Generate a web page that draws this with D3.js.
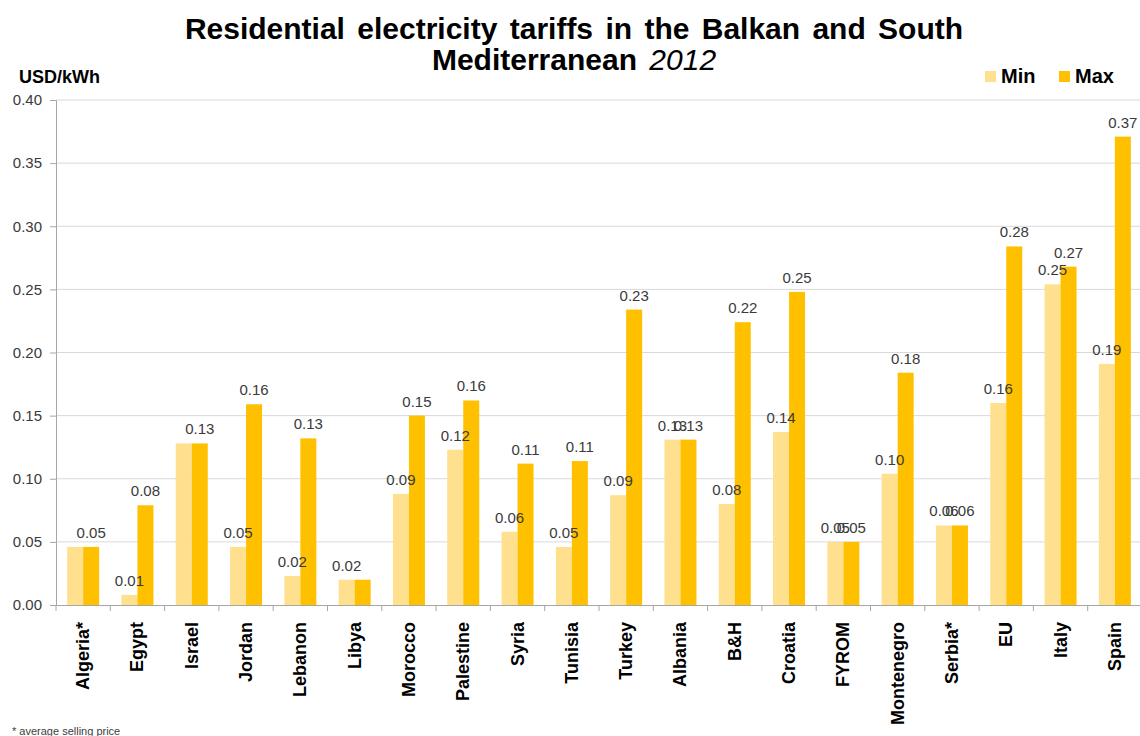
<!DOCTYPE html>
<html>
<head>
<meta charset="utf-8">
<script src="https://cdn.jsdelivr.net/npm/d3@7"></script>
<style>
  html, body { margin: 0; padding: 0; background: #fff; }
  svg { display: block; font-family: "Liberation Sans", Arial, sans-serif; }
</style>
</head>
<body>
<svg id="chart" width="1140" height="736"></svg>
<script>
// Residential tariffs, USD per kWh, 2012
const countries = ["Algeria*", "Egypt", "Israel", "Jordan", "Lebanon", "Libya", "Morocco",
  "Palestine", "Syria", "Tunisia", "Turkey", "Albania", "B&H", "Croatia", "FYROM",
  "Montenegro", "Serbia*", "EU", "Italy", "Spain"];
const minTariff = [0.046, 0.008, 0.128, 0.046, 0.023, 0.020, 0.088,
  0.123, 0.058, 0.046, 0.087, 0.131, 0.080, 0.137, 0.050,
  0.104, 0.063, 0.160, 0.254, 0.191];
const maxTariff = [0.046, 0.079, 0.128, 0.159, 0.132, 0.020, 0.150,
  0.162, 0.112, 0.114, 0.234, 0.131, 0.224, 0.248, 0.050,
  0.184, 0.063, 0.284, 0.268, 0.371];
// data labels that are switched off
const hiddenMinLabels = ["Algeria*", "Israel"];
const hiddenMaxLabels = ["Libya"];
const yTicks = [0, 0.05, 0.10, 0.15, 0.20, 0.25, 0.30, 0.35, 0.40];
const seriesKeys = ["Min", "Max"];
const seriesColors = ["#FEE08E", "#FFC000"];

const rows = countries.map((c, i) => ({ country: c, Min: minTariff[i], Max: maxTariff[i] }));

const svg = d3.select("#chart");
const plot = { left: 56, right: 1142, top: 100, bottom: 605 };

const x = d3.scaleBand().domain(countries).range([plot.left, plot.right]);
const bw = x.bandwidth();
const barW = 16;
const x1 = d3.scaleBand().domain(seriesKeys).range([bw / 2 - barW, bw / 2 + barW]);
const y = d3.scaleLinear().domain([0, 0.4]).range([plot.bottom, plot.top]);
const color = d3.scaleOrdinal().domain(seriesKeys).range(seriesColors);
const fmt = d3.format(".2f");

// gridlines
svg.append("g")
  .selectAll("line")
  .data(yTicks.slice(1))
  .join("line")
  .attr("x1", plot.left).attr("x2", 1140)
  .attr("y1", d => y(d)).attr("y2", d => y(d))
  .attr("stroke", "#D9D9D9").attr("stroke-width", 1);

// bars
const groups = svg.append("g")
  .selectAll("g")
  .data(rows)
  .join("g")
  .attr("transform", d => `translate(${x(d.country)},0)`);

groups.selectAll("rect")
  .data(d => seriesKeys.map(k => ({ key: k, value: d[k], country: d.country })))
  .join("rect")
  .attr("x", d => x1(d.key))
  .attr("width", x1.bandwidth())
  .attr("y", d => y(d.value))
  .attr("height", d => y(0) - y(d.value))
  .attr("fill", d => color(d.key));

// value labels
groups.selectAll("text")
  .data(d => seriesKeys.map(k => ({ key: k, value: d[k], country: d.country }))
    .filter(e => !(e.key === "Min" ? hiddenMinLabels : hiddenMaxLabels).includes(e.country)))
  .join("text")
  .attr("x", d => x1(d.key) + x1.bandwidth() / 2)
  .attr("y", d => y(d.value) - 9)
  .attr("text-anchor", "middle")
  .attr("font-size", 15)
  .attr("fill", "#3a3a3a")
  .text(d => fmt(d.value));

// y axis
const yAxis = svg.append("g")
  .attr("transform", `translate(${plot.left},0)`)
  .call(d3.axisLeft(y).tickValues(yTicks).tickFormat(fmt).tickSize(6).tickPadding(8));
yAxis.select(".domain").attr("stroke", "#A6A6A6");
yAxis.selectAll(".tick line").attr("stroke", "#A6A6A6");
yAxis.selectAll(".tick text")
  .attr("font-family", "Liberation Sans, Arial, sans-serif")
  .attr("font-size", 15).attr("fill", "#3a3a3a");

// x axis
const xAxis = svg.append("g")
  .attr("transform", `translate(0,${plot.bottom})`)
  .call(d3.axisBottom(x).tickSize(0).tickFormat(""));
xAxis.select(".domain").attr("stroke", "#A6A6A6");
xAxis.selectAll(".tick").remove();
xAxis.selectAll(".sep")
  .data(countries)
  .join("line")
  .attr("class", "sep")
  .attr("x1", d => x(d)).attr("x2", d => x(d))
  .attr("y1", 0).attr("y2", 6)
  .attr("stroke", "#A6A6A6");

svg.append("g")
  .selectAll("text")
  .data(countries)
  .join("text")
  .attr("transform", d => `translate(${x(d) + bw / 2 + 6},622) rotate(-90)`)
  .attr("text-anchor", "end")
  .attr("font-size", 18)
  .attr("font-weight", "bold")
  .attr("fill", "#000")
  .text(d => d);

// title
const title = svg.append("text")
  .attr("text-anchor", "middle")
  .attr("font-size", 30)
  .attr("font-weight", "bold")
  .attr("word-spacing", 4)
  .attr("fill", "#000");
title.append("tspan").attr("x", 574).attr("y", 39)
  .text("Residential electricity tariffs in the Balkan and South");
const t2 = title.append("tspan").attr("x", 574).attr("y", 70);
t2.append("tspan").text("Mediterranean ");
t2.append("tspan").attr("font-style", "italic").attr("font-weight", "normal").text("2012");

// unit label
svg.append("text")
  .attr("x", 19).attr("y", 83)
  .attr("font-size", 18).attr("font-weight", "bold")
  .text("USD/kWh");

// legend
const legendX = [985, 1059];
const legend = svg.append("g")
  .selectAll("g")
  .data(seriesKeys)
  .join("g")
  .attr("transform", (d, i) => `translate(${legendX[i]},71)`);
legend.append("rect").attr("width", 11).attr("height", 11).attr("fill", d => color(d));
legend.append("text").attr("x", 16).attr("y", 12)
  .attr("font-size", 20).attr("font-weight", "bold").text(d => d);

// footnote
svg.append("text")
  .attr("x", 12).attr("y", 735)
  .attr("font-size", 11).attr("fill", "#404040")
  .text("* average selling price");
</script>
</body>
</html>
